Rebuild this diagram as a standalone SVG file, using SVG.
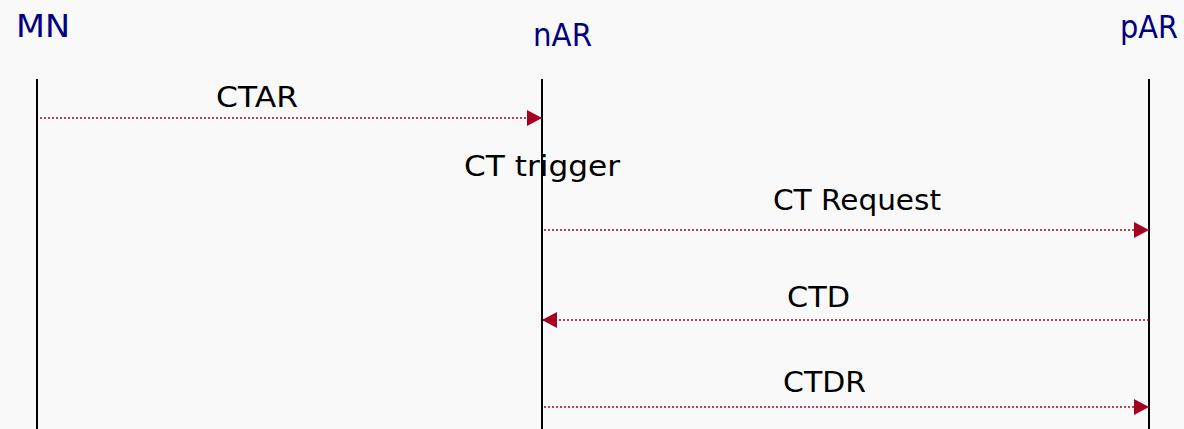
<svg xmlns="http://www.w3.org/2000/svg" width="1184" height="429" viewBox="0 0 1184 429">
<style>
.bg{fill:#f9f9f9}
.life{stroke:#000;stroke-width:2;fill:none}
.msg{stroke:#a50021;stroke-width:1.5;stroke-dasharray:2 2;fill:none}
.actor{font-family:"Comic Sans MS","DejaVu Sans",sans-serif;font-size:32px;fill:#000080}
.lbl{font-family:"Comic Sans MS","DejaVu Sans",sans-serif;font-size:29px;fill:#000}
</style>
<defs>
<marker id="ah" markerWidth="15" markerHeight="16" refX="15" refY="8" orient="auto" markerUnits="userSpaceOnUse">
<path d="M0,0 L15,8 L0,16 Z" fill="#a50021"/>
</marker>
</defs>
<rect class="bg" x="0" y="0" width="1184" height="429"/>
<g id="MN"><text class="actor" x="16" y="37" textLength="54" lengthAdjust="spacingAndGlyphs">MN</text><line class="life" x1="37" y1="79" x2="37" y2="429"/></g>
<g id="nAR"><text class="actor" x="533" y="46" textLength="59" lengthAdjust="spacingAndGlyphs">nAR</text><line class="life" x1="542" y1="79" x2="542" y2="429"/></g>
<g id="pAR"><text class="actor" x="1120" y="38" textLength="58" lengthAdjust="spacingAndGlyphs">pAR</text><line class="life" x1="1149" y1="79" x2="1149" y2="429"/></g>
<g id="connectors">
<line class="msg" x1="40" y1="118" x2="542" y2="118" marker-end="url(#ah)"/>
<line class="msg" x1="544" y1="230" x2="1149" y2="230" marker-end="url(#ah)"/>
<line class="msg" x1="1149" y1="320" x2="542" y2="320" marker-end="url(#ah)"/>
<line class="msg" x1="544" y1="407" x2="1149" y2="407" marker-end="url(#ah)"/>
</g>
<g id="labels">
<text class="lbl" x="216" y="107" textLength="82" lengthAdjust="spacingAndGlyphs">CTAR</text>
<text class="lbl" x="464" y="176" textLength="156" lengthAdjust="spacingAndGlyphs">CT trigger</text>
<text class="lbl" x="773" y="210" textLength="168" lengthAdjust="spacingAndGlyphs">CT Request</text>
<text class="lbl" x="787" y="307" textLength="63" lengthAdjust="spacingAndGlyphs">CTD</text>
<text class="lbl" x="783" y="392" textLength="83" lengthAdjust="spacingAndGlyphs">CTDR</text>
</g>
</svg>
